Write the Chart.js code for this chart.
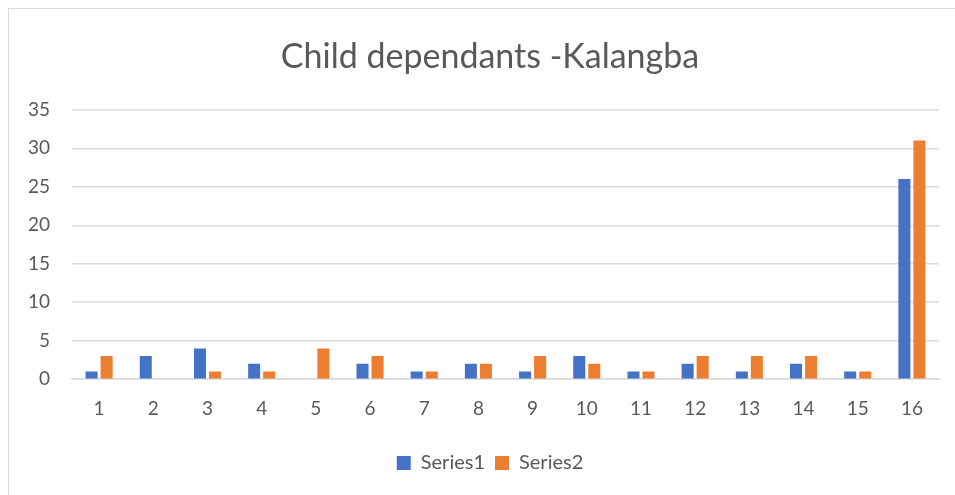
<!DOCTYPE html>
<html><head><meta charset="utf-8">
<script src="https://cdn.jsdelivr.net/npm/chart.js@4/dist/chart.umd.min.js"></script>
<style>
html,body{margin:0;padding:0;background:#fff;overflow:hidden}
#frame{position:absolute;left:8px;top:8px;width:960px;height:500px;border:1px solid #d9d9d9;box-sizing:border-box}
#wrap{position:absolute;left:0;top:0;width:955px;height:495px}
</style></head><body>
<div id="frame"></div>
<div id="wrap"><canvas id="c" width="955" height="495"></canvas></div>
<script>
const categories = ["1","2","3","4","5","6","7","8","9","10","11","12","13","14","15","16"];
const series1 = [1,3,4,2,0,2,1,2,1,3,1,2,1,2,1,26];
const series2 = [3,0,1,1,4,3,1,2,3,2,1,3,3,3,1,31];
const seriesNames = ["Series1","Series2"];
const titleText = "Child dependants -Kalangba";

const FONT = "Lato, 'Open Sans', sans-serif";
new Chart(document.getElementById('c'), {
  type: 'bar',
  data: {
    labels: categories,
    datasets: [
      {label: seriesNames[0], data: series1, backgroundColor: '#4472c4', borderWidth:0},
      {label: seriesNames[1], data: series2, backgroundColor: '#ed7d31', borderWidth:0}
    ]
  },
  options: {
    responsive: false,
    animation: false,
    layout: {padding: {left: 41, right: 16, top: 0, bottom: 12}},
    datasets: {bar: {categoryPercentage: 0.555, barPercentage: 0.8}},
    plugins: {
      title: {display: true, text: titleText, color: '#595959',
        font: {family: FONT, size: 34, weight: 'normal'}, padding: {top: 37, bottom: 32}},
      legend: {position: 'bottom', labels: {color: '#595959', boxWidth: 14, boxHeight: 14,
        font: {family: FONT, size: 20}, padding: 10}},
      tooltip: {enabled: false}
    },
    scales: {
      x: {grid: {display: false, drawTicks: false}, border: {color: '#d9d9d9', width: 1.5},
        ticks: {color: '#595959', font: {family: FONT, size: 19}, padding: 18},
        afterFit: (s) => { s.height += 5; }},
      y: {min: 0, max: 35, grid: {color: '#d9d9d9', drawTicks: false, lineWidth: 1.5}, border: {display: false},
        ticks: {stepSize: 5, color: '#595959', font: {family: FONT, size: 19}, mirror: true, crossAlign: 'far', padding: -44},
        afterFit: (s) => { s.width = 31; }}
    }
  }
});
</script>
</body></html>
